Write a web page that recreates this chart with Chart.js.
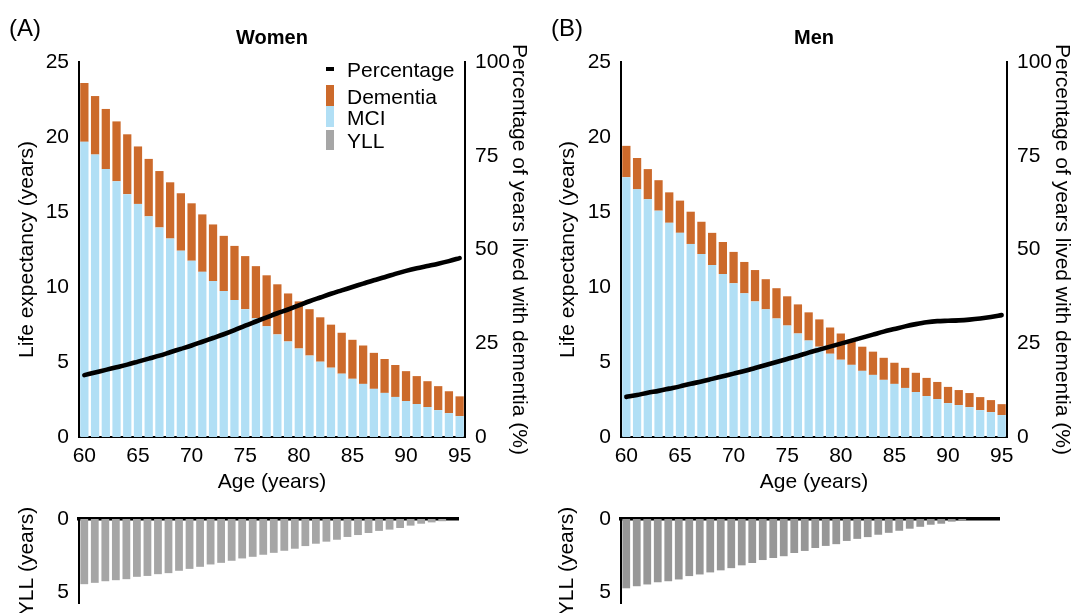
<!DOCTYPE html>
<html>
<head>
<meta charset="utf-8">
<script src="https://cdn.jsdelivr.net/npm/chart.js@4.4.1/dist/chart.umd.min.js"></script>
<style>
html,body{margin:0;padding:0;background:#fff;overflow:hidden;width:1076px;height:613px;}
body{position:relative;font-family:"Liberation Sans",Arial,Helvetica,sans-serif;color:#000;}
.box{position:absolute;}
.box canvas{display:block;}
.txt{position:absolute;white-space:nowrap;line-height:1;transform:translateY(-50%);}
.ctr{transform:translate(-50%,-50%);}
.sw{position:absolute;}
</style>
</head>
<body>

<div class="box" style="left:0;top:0;width:540px;height:500px;"><canvas id="wMain" width="540" height="500"></canvas></div>
<div class="box" style="left:540px;top:0;width:536px;height:500px;"><canvas id="mMain" width="536" height="500"></canvas></div>
<div class="box" style="left:0;top:480px;width:540px;height:160px;"><canvas id="wYLL" width="540" height="160"></canvas></div>
<div class="box" style="left:540px;top:480px;width:536px;height:160px;"><canvas id="mYLL" width="536" height="160"></canvas></div>

<div class="txt" style="left:9px;top:28px;font-size:24px;">(A)</div>
<div class="txt ctr" style="left:272px;top:37px;font-size:20px;font-weight:bold;">Women</div>
<div class="txt" style="left:551px;top:28px;font-size:24px;">(B)</div>
<div class="txt ctr" style="left:814px;top:37px;font-size:20px;font-weight:bold;">Men</div>

<!-- legend -->
<div class="sw" style="left:326px;top:67px;width:8px;height:4px;background:#000;"></div>
<div class="txt" style="left:347px;top:69px;font-size:21px;">Percentage</div>
<div class="sw" style="left:326px;top:85px;width:8px;height:21px;background:#CC6A2B;"></div>
<div class="txt" style="left:347px;top:96px;font-size:21px;">Dementia</div>
<div class="sw" style="left:326px;top:106px;width:8px;height:21px;background:#B1DFF5;"></div>
<div class="txt" style="left:347px;top:117px;font-size:21px;">MCI</div>
<div class="sw" style="left:326px;top:130px;width:8px;height:20px;background:#A6A6A6;"></div>
<div class="txt" style="left:347px;top:140px;font-size:21px;">YLL</div>

<script>
// ---- data ----
const ages = [60,61,62,63,64,65,66,67,68,69,70,71,72,73,74,75,76,77,78,79,80,81,82,83,84,85,86,87,88,89,90,91,92,93,94,95];
const ageTickLabels = [60,65,70,75,80,85,90,95];
const lifeTicks = [0,5,10,15,20,25];
const pctTicks = [0,25,50,75,100];
const yllTicks = [0,5];

const womenMCI = [19.68,18.83,17.86,17.05,16.19,15.54,14.71,13.97,13.23,12.42,11.75,11.01,10.40,9.73,9.13,8.52,7.91,7.38,6.84,6.37,5.90,5.43,5.02,4.62,4.22,3.88,3.54,3.21,2.94,2.67,2.40,2.20,2.00,1.79,1.59,1.39];
const womenDementia = [3.92,3.90,4.01,3.99,3.99,3.83,3.83,3.76,3.75,3.83,3.83,3.83,3.77,3.68,3.61,3.54,3.48,3.40,3.34,3.20,3.14,3.09,2.96,2.87,2.73,2.60,2.56,2.40,2.26,2.13,1.99,1.86,1.72,1.60,1.46,1.32];
const womenPercentage = [16.5,17.2,17.9,18.6,19.3,20.1,20.9,21.7,22.6,23.5,24.4,25.4,26.4,27.4,28.5,29.7,30.8,31.9,33.0,34.0,35.1,36.2,37.2,38.2,39.1,40.0,40.9,41.8,42.6,43.5,44.3,45.0,45.6,46.2,46.9,47.7];
const womenYLL = [4.43,4.34,4.23,4.16,4.09,3.93,3.87,3.75,3.68,3.52,3.39,3.25,3.09,2.98,2.84,2.68,2.57,2.43,2.30,2.16,2.02,1.84,1.68,1.54,1.41,1.22,1.09,0.95,0.81,0.72,0.61,0.45,0.32,0.23,0.15,0];

const menMCI = [17.32,16.51,15.85,15.09,14.28,13.61,12.87,12.20,11.46,10.86,10.25,9.58,9.04,8.51,7.90,7.43,6.90,6.43,6.02,5.55,5.15,4.81,4.41,4.14,3.81,3.54,3.27,3.00,2.73,2.53,2.26,2.13,1.99,1.79,1.66,1.46];
const menDementia = [2.09,2.09,2.01,2.03,2.03,2.15,2.15,2.15,2.15,2.14,2.09,2.09,2.09,2.01,2.02,1.95,1.94,1.88,1.82,1.75,1.75,1.68,1.61,1.55,1.47,1.41,1.34,1.28,1.21,1.14,1.08,1.00,0.94,0.87,0.80,0.73];
const menPercentage = [10.7,11.2,11.8,12.3,12.9,13.5,14.2,14.8,15.5,16.2,16.9,17.6,18.4,19.2,20.0,20.8,21.6,22.5,23.3,24.1,24.9,25.7,26.5,27.3,28.1,28.8,29.5,30.1,30.6,30.9,31.0,31.1,31.3,31.6,32.0,32.5];
const menYLL = [4.71,4.57,4.45,4.30,4.23,4.11,3.88,3.77,3.63,3.49,3.34,3.15,2.99,2.79,2.65,2.53,2.31,2.17,1.97,1.83,1.71,1.49,1.35,1.23,1.07,0.94,0.80,0.66,0.53,0.39,0.32,0.18,0.12,0,0,0];

// ---- styles ----
const ORANGE = '#CC6A2B';
const BLUE = '#B1DFF5';
const GRAY_W = '#A6A6A6';
const GRAY_M = '#979797';
const FONT = "'Liberation Sans', Arial, Helvetica, sans-serif";

Chart.defaults.font.family = FONT;
Chart.defaults.color = '#000';
Chart.defaults.animation = false;

const axisBorder = {display:true, color:'#000', width:2};
const noGrid = {display:false, drawTicks:false};

function fixedTicks(list){
  return function(scale){ scale.ticks = list.map(v => ({value:v})); };
}

function mainChart(id, mci, dem, pct, g){
  new Chart(document.getElementById(id), {
    type:'bar',
    data:{
      labels: ages.map(String),
      datasets:[
        {type:'line', label:'Percentage', data:pct, yAxisID:'y2', borderColor:'#000', borderWidth:4.6,
         pointRadius:0, tension:0.3, fill:false, order:0, borderCapStyle:'round'},
        {label:'MCI', data:mci, backgroundColor:BLUE, stack:'le', yAxisID:'y', order:1,
         barPercentage:0.77, categoryPercentage:1},
        {label:'Dementia', data:dem, backgroundColor:ORANGE, stack:'le', yAxisID:'y', order:1,
         barPercentage:0.77, categoryPercentage:1}
      ]
    },
    options:{
      responsive:false, maintainAspectRatio:false, animation:false, events:[],
      layout:{padding:{top:62, left:0, right:0, bottom:0}},
      plugins:{legend:{display:false}, tooltip:{enabled:false}},
      scales:{
        x:{stacked:true, grid:noGrid, border:axisBorder,
           ticks:{autoSkip:false, maxRotation:0, minRotation:0, padding:7, font:{size:21},
                  callback:(v,i)=> ageTickLabels.includes(ages[i]) ? String(ages[i]) : ''},
           title:{display:true, text:'Age (years)', font:{size:21}, padding:{top:0, bottom:5}},
           afterFit:s=>{s.height=63;}},
        y:{stacked:true, position:'left', min:0, max:25,
           afterBuildTicks:fixedTicks(lifeTicks),
           ticks:{padding:10, font:{size:21}}, grid:noGrid, border:axisBorder,
           title:{display:true, text:'Life expectancy (years)', font:{size:21}, padding:{top:g.ltp, bottom:0}},
           afterFit:s=>{s.width=g.lw;}},
        y2:{position:'right', min:0, max:100,
           afterBuildTicks:fixedTicks(pctTicks),
           ticks:{padding:10, font:{size:21}}, grid:noGrid, border:axisBorder,
           title:{display:true, text:'Percentage of years lived with dementia (%)', font:{size:21}, padding:{top:g.rtp, bottom:0}},
           afterFit:s=>{s.width=g.rw;}}
      }
    }
  });
}

function yllChart(id, vals, color, g){
  new Chart(document.getElementById(id), {
    type:'bar',
    data:{
      labels: ages.map(String),
      datasets:[{label:'YLL', data:vals, backgroundColor:color, barPercentage:0.74, categoryPercentage:1}]
    },
    options:{
      responsive:false, maintainAspectRatio:false, animation:false, events:[],
      layout:{padding:{top:39, left:0, right:g.rpad, bottom:37}},
      plugins:{legend:{display:false}, tooltip:{enabled:false}},
      scales:{
        x:{position:'top', grid:noGrid, border:{display:true, color:'#000', width:3.5},
           ticks:{display:false}, afterFit:s=>{s.height=0;}},
        y:{position:'left', reverse:true, min:0, max:5.71,
           afterBuildTicks:fixedTicks(yllTicks),
           ticks:{padding:10, font:{size:21}}, grid:noGrid, border:axisBorder,
           title:{display:true, text:'YLL (years)', font:{size:21}, padding:{top:g.ltp, bottom:0}},
           afterFit:s=>{s.width=g.lw;}}
      }
    }
  });
}

mainChart('wMain', womenMCI, womenDementia, womenPercentage, {lw:79, rw:75, ltp:15, rtp:9});
mainChart('mMain', menMCI, menDementia, menPercentage, {lw:81, rw:69, ltp:16, rtp:2});
yllChart('wYLL', womenYLL, GRAY_W, {lw:79, rpad:82, ltp:15});
yllChart('mYLL', menYLL, GRAY_M, {lw:81, rpad:77, ltp:15});
</script>
</body>
</html>
